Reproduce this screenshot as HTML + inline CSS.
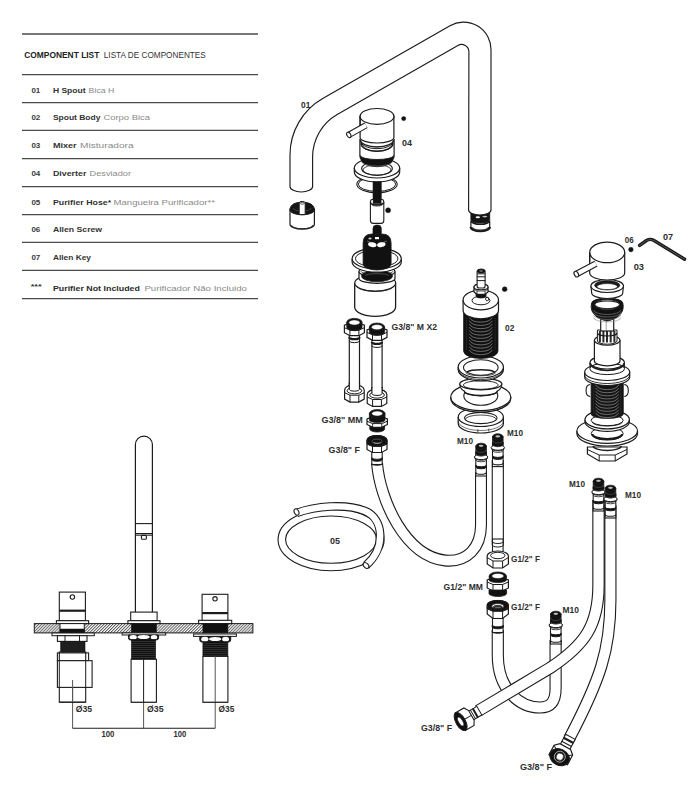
<!DOCTYPE html>
<html><head><meta charset="utf-8"><style>
html,body{margin:0;padding:0;background:#fff;}
svg{display:block;font-family:"Liberation Sans",sans-serif;}
</style></head><body>
<svg width="700" height="800" viewBox="0 0 700 800">
<line x1="22" y1="34" x2="258" y2="34" stroke="#4a4a4a" stroke-width="1.3" />
<line x1="22" y1="74.7" x2="258" y2="74.7" stroke="#4a4a4a" stroke-width="1.3" />
<line x1="22" y1="102.6" x2="258" y2="102.6" stroke="#4a4a4a" stroke-width="1.3" />
<line x1="22" y1="130.4" x2="258" y2="130.4" stroke="#4a4a4a" stroke-width="1.3" />
<line x1="22" y1="158.6" x2="258" y2="158.6" stroke="#4a4a4a" stroke-width="1.3" />
<line x1="22" y1="186.7" x2="258" y2="186.7" stroke="#4a4a4a" stroke-width="1.3" />
<line x1="22" y1="214.6" x2="258" y2="214.6" stroke="#4a4a4a" stroke-width="1.3" />
<line x1="22" y1="242.4" x2="258" y2="242.4" stroke="#4a4a4a" stroke-width="1.3" />
<line x1="22" y1="270.4" x2="258" y2="270.4" stroke="#4a4a4a" stroke-width="1.3" />
<line x1="22" y1="298.6" x2="258" y2="298.6" stroke="#4a4a4a" stroke-width="1.3" />
<text x="24.3" y="58.2" font-size="8.2" font-weight="bold" fill="#222" text-anchor="start" textLength="75" lengthAdjust="spacingAndGlyphs">COMPONENT LIST</text>
<text x="103.8" y="58.2" font-size="8.2" font-weight="normal" fill="#333" text-anchor="start" textLength="102" lengthAdjust="spacingAndGlyphs">LISTA DE COMPONENTES</text>
<text x="31.4" y="92.50000000000001" font-size="8" font-weight="bold" fill="#3a3a3a" text-anchor="start" textLength="8.9" lengthAdjust="spacingAndGlyphs">01</text>
<text x="52.9" y="92.50000000000001" font-size="8" font-weight="bold" fill="#333" text-anchor="start" textLength="32.7" lengthAdjust="spacingAndGlyphs">H Spout</text>
<text x="88.6" y="92.50000000000001" font-size="8" font-weight="normal" fill="#8a8a8a" text-anchor="start" textLength="25.8" lengthAdjust="spacingAndGlyphs">Bica H</text>
<text x="31.4" y="120.4" font-size="8" font-weight="bold" fill="#3a3a3a" text-anchor="start" textLength="8.9" lengthAdjust="spacingAndGlyphs">02</text>
<text x="52.9" y="120.4" font-size="8" font-weight="bold" fill="#333" text-anchor="start" textLength="47.5" lengthAdjust="spacingAndGlyphs">Spout Body</text>
<text x="103.4" y="120.4" font-size="8" font-weight="normal" fill="#8a8a8a" text-anchor="start" textLength="46.6" lengthAdjust="spacingAndGlyphs">Corpo Bica</text>
<text x="31.4" y="148.20000000000002" font-size="8" font-weight="bold" fill="#3a3a3a" text-anchor="start" textLength="8.9" lengthAdjust="spacingAndGlyphs">03</text>
<text x="52.9" y="148.20000000000002" font-size="8" font-weight="bold" fill="#333" text-anchor="start" textLength="23.7" lengthAdjust="spacingAndGlyphs">Mixer</text>
<text x="80" y="148.20000000000002" font-size="8" font-weight="normal" fill="#8a8a8a" text-anchor="start" textLength="53.6" lengthAdjust="spacingAndGlyphs">Misturadora</text>
<text x="31.4" y="176.4" font-size="8" font-weight="bold" fill="#3a3a3a" text-anchor="start" textLength="8.9" lengthAdjust="spacingAndGlyphs">04</text>
<text x="52.9" y="176.4" font-size="8" font-weight="bold" fill="#333" text-anchor="start" textLength="33.5" lengthAdjust="spacingAndGlyphs">Diverter</text>
<text x="89.6" y="176.4" font-size="8" font-weight="normal" fill="#8a8a8a" text-anchor="start" textLength="41.4" lengthAdjust="spacingAndGlyphs">Desviador</text>
<text x="31.4" y="204.5" font-size="8" font-weight="bold" fill="#3a3a3a" text-anchor="start" textLength="8.9" lengthAdjust="spacingAndGlyphs">05</text>
<text x="52.9" y="204.5" font-size="8" font-weight="bold" fill="#333" text-anchor="start" textLength="58.2" lengthAdjust="spacingAndGlyphs">Purifier Hose*</text>
<text x="113.5" y="204.5" font-size="8" font-weight="normal" fill="#8a8a8a" text-anchor="start" textLength="101.4" lengthAdjust="spacingAndGlyphs">Mangueira Purificador**</text>
<text x="31.4" y="232.4" font-size="8" font-weight="bold" fill="#3a3a3a" text-anchor="start" textLength="8.9" lengthAdjust="spacingAndGlyphs">06</text>
<text x="52.9" y="232.4" font-size="8" font-weight="bold" fill="#333" text-anchor="start" textLength="49.2" lengthAdjust="spacingAndGlyphs">Allen Screw</text>
<text x="31.4" y="260.2" font-size="8" font-weight="bold" fill="#3a3a3a" text-anchor="start" textLength="8.9" lengthAdjust="spacingAndGlyphs">07</text>
<text x="52.9" y="260.2" font-size="8" font-weight="bold" fill="#333" text-anchor="start" textLength="38.1" lengthAdjust="spacingAndGlyphs">Allen Key</text>
<text x="30.7" y="289.29999999999995" font-size="8" font-weight="bold" fill="#333" text-anchor="start" textLength="11" lengthAdjust="spacingAndGlyphs">***</text>
<text x="52.9" y="290.49999999999994" font-size="8" font-weight="bold" fill="#2a2a2a" text-anchor="start" textLength="87" lengthAdjust="spacingAndGlyphs">Purifier Not Included</text>
<text x="144.4" y="290.49999999999994" font-size="8" font-weight="normal" fill="#8a8a8a" text-anchor="start" textLength="102.6" lengthAdjust="spacingAndGlyphs">Purificador Não Incluido</text>
<path d="M470.90000000000003,222 L470.90000000000003,227 A9.4,4 0 0 0 489.7,227 L489.7,222 Z" fill="white" stroke="#1c1c1c" stroke-width="1.2" />
<path d="M470.90000000000003,227 A9.4,4 0 0 0 489.7,227" fill="none" stroke="#1c1c1c" stroke-width="2.6" />
<path d="M472.8,227.5 A7.5,2.5 0 0 0 487.8,227.5" fill="none" stroke="#444" stroke-width="0.8" />
<path d="M470.90000000000003,213 L470.90000000000003,219.5 A9.4,3.6 0 0 0 489.7,219.5 L489.7,213 Z" fill="#151515" stroke="#1c1c1c" stroke-width="0.9" />
<ellipse cx="477.8" cy="217.3" rx="2.2" ry="1.0" fill="white" stroke="#1c1c1c" stroke-width="0" />
<ellipse cx="484.8" cy="216.6" rx="2.5" ry="0.8" fill="#bbb" stroke="#1c1c1c" stroke-width="0" />
<path d="M470.90000000000003,220.5 A9.4,3.8 0 0 0 489.7,220.5" fill="none" stroke="#1c1c1c" stroke-width="1.6" />
<path d="M290,186.4 L290,155 A65,65 0 0 1 322.7,98.6 L450,25.7 A27.4,27.4 0 0 1 491,49.5 L491,210 A11.2,5 0 0 1 468.6,210 L468.9,51.8 A7.4,7.4 0 0 0 457.9,45.4 L337.2,114.5 A49,49 0 0 0 312.6,157 L312.6,186.4 A11.3,5.6 0 0 1 290,186.4 Z" fill="white" stroke="#1c1c1c" stroke-width="1.15" />
<path d="M290.0,209 L290.0,224.2 A12.2,5 0 0 0 314.4,224.2 L314.4,209 Z" fill="white" stroke="#1c1c1c" stroke-width="1.2" />
<path d="M291.7,225.2 A10.5,3.5 0 0 0 312.7,225.2" fill="none" stroke="#1c1c1c" stroke-width="0.9" />
<path d="M290.0,210 C290.0,204 296.2,202.3 302.2,202.3 C308.2,202.3 314.4,204 314.4,210 A12.2,4.8 0 0 1 290.0,210 Z" fill="#151515" stroke="#1c1c1c" stroke-width="1.0" />
<path d="M293.2,208 A9,3 0 0 0 311.2,208" fill="none" stroke="#666" stroke-width="0.5" />
<path d="M299.2,203 L299.2,214.6 L305.2,214.6 L305.2,203 A3,1.6 0 0 0 299.2,203 Z" fill="white" stroke="#1c1c1c" stroke-width="1.0" />
<ellipse cx="302.2" cy="203.3" rx="2.0" ry="0.9" fill="none" stroke="#1c1c1c" stroke-width="0.7" />
<ellipse cx="377" cy="184.2" rx="20.2" ry="8.5" fill="none" stroke="#1c1c1c" stroke-width="1.1" />
<ellipse cx="377" cy="184.2" rx="18.7" ry="7.2" fill="none" stroke="#1c1c1c" stroke-width="1.0" />
<rect x="373.1" y="176" width="8.0" height="28" fill="#111" stroke="#1c1c1c" stroke-width="0.5" />
<path d="M354.3,168 L354.3,172 A22.7,10 0 0 0 399.7,172 L399.7,168" fill="white" stroke="#1c1c1c" stroke-width="1.2" />
<ellipse cx="377" cy="168" rx="22.7" ry="10" fill="white" stroke="#1c1c1c" stroke-width="1.2" />
<ellipse cx="377" cy="168.5" rx="15.3" ry="6.8" fill="white" stroke="#1c1c1c" stroke-width="1.2" />
<ellipse cx="377" cy="170" rx="14" ry="5.2" fill="none" stroke="#1c1c1c" stroke-width="0.8" />
<path d="M359.9,139 L359.9,156 A17.1,8 0 0 0 394.1,156 L394.1,139" fill="white" stroke="#1c1c1c" stroke-width="1.2" />
<path d="M360.4,155.5 A16.6,4.0 0 0 0 393.6,155.5 L392.8,159.5 A15.8,7.2 0 0 1 361.2,159.5 Z" fill="#111" stroke="#1c1c1c" stroke-width="0.9" />
<path d="M361,161 A16,5 0 0 0 393,161" fill="none" stroke="#777" stroke-width="0.5" />
<path d="M360.5,140 A16.5,7 0 0 0 393.5,140" fill="none" stroke="#1c1c1c" stroke-width="1.3" />
<path d="M360.5,141 A16.5,7.7 0 0 0 393.5,141" fill="none" stroke="#1c1c1c" stroke-width="1.0" />
<path d="M361,143 A16,8.2 0 0 0 393,143" fill="none" stroke="#1c1c1c" stroke-width="1.4" />
<path d="M361,144.3 A16,7 0 0 0 393,144.3" fill="none" stroke="#1c1c1c" stroke-width="0.9" />
<path d="M360.1,116.4 L360.1,137.5 A16.9,5.5 0 0 0 393.9,137.5 L393.9,116.4" fill="white" stroke="#1c1c1c" stroke-width="1.2" />
<ellipse cx="377" cy="116.4" rx="16.9" ry="5.5" fill="white" stroke="#1c1c1c" stroke-width="1.2" />
<line x1="349" y1="134.8" x2="366" y2="125.3" stroke="#1c1c1c" stroke-width="6.4" stroke-linecap="butt"/>
<line x1="349" y1="134.8" x2="366" y2="125.3" stroke="white" stroke-width="4.2" stroke-linecap="butt"/>
<ellipse cx="348.8" cy="134.9" rx="1.9" ry="2.9" fill="white" stroke="#1c1c1c" stroke-width="1.1" transform="rotate(-30 348.8 134.9)"/>
<ellipse cx="377" cy="116.4" rx="16.9" ry="7.9" fill="white" stroke="#1c1c1c" stroke-width="1.2" />
<path d="M360.1,116.4 L360.1,126" fill="none" stroke="#1c1c1c" stroke-width="1.2" />
<ellipse cx="403.7" cy="118.6" rx="2.1" ry="2.1" fill="#111" stroke="#1c1c1c" stroke-width="0.5" />
<rect x="370.4" y="199.2" width="13.4" height="24.2" fill="white" stroke="#1c1c1c" stroke-width="1.1" rx="2.8"/>
<rect x="373.1" y="181.5" width="8.0" height="22" fill="#111" stroke="#1c1c1c" stroke-width="0.5" />
<path d="M370.6,202.5 A6.5,2.3 0 0 0 383.6,202.5" fill="none" stroke="#1c1c1c" stroke-width="1.7" />
<path d="M371.5,204.3 A5.5,1.8 0 0 0 382.5,204.3" fill="none" stroke="#1c1c1c" stroke-width="0.8" />
<ellipse cx="388.1" cy="210.3" rx="2.5" ry="2.5" fill="#111" stroke="#1c1c1c" stroke-width="0.5" />
<rect x="372.9" y="225" width="8.5" height="12" fill="#111" stroke="#1c1c1c" stroke-width="0.5" rx="3.5"/>
<path d="M354.7,283 L354.7,307 A20.45,9.3 0 0 0 395.6,307 L395.6,283" fill="white" stroke="#1c1c1c" stroke-width="1.3" />
<ellipse cx="375.2" cy="283" rx="20.45" ry="8.2" fill="white" stroke="#1c1c1c" stroke-width="1.2" />
<path d="M357,286.5 A18.5,6 0 0 0 393.5,286.5" fill="none" stroke="#1c1c1c" stroke-width="0.9" />
<path d="M359,271.5 L359,278.5 A18,4.8 0 0 0 395,278.5 L395,271.5" fill="white" stroke="#1c1c1c" stroke-width="1.2" />
<ellipse cx="377" cy="271.5" rx="18" ry="5.5" fill="white" stroke="#1c1c1c" stroke-width="1.2" />
<ellipse cx="377" cy="276" rx="15.5" ry="5.8" fill="#111" stroke="#1c1c1c" stroke-width="0.8" />
<path d="M361,271.3 A16,3.5 0 0 0 393,271.3" fill="none" stroke="#1c1c1c" stroke-width="0.9" />
<path d="M365,276 A12,2.5 0 0 1 389,276" fill="none" stroke="#666" stroke-width="0.6" />
<path d="M352.09999999999997,259 L352.09999999999997,262 A24.6,10.2 0 0 0 401.3,262 L401.3,259" fill="white" stroke="#1c1c1c" stroke-width="1.2" />
<ellipse cx="376.7" cy="258.6" rx="24.6" ry="10.5" fill="white" stroke="#1c1c1c" stroke-width="1.2" />
<ellipse cx="376.7" cy="258.6" rx="21.2" ry="8.4" fill="none" stroke="#1c1c1c" stroke-width="1.0" />
<path d="M363.1,264 L363.1,243 Q363.1,234 372,234 L382,234 Q391.1,234 391.1,243 L391.1,264 A14,6 0 0 1 363.1,264 Z" fill="#111" stroke="#1c1c1c" stroke-width="0.8" />
<ellipse cx="372.3" cy="244.6" rx="4.3" ry="2.4" fill="white" stroke="#1c1c1c" stroke-width="0" transform="rotate(12 372.3 244.6)"/>
<ellipse cx="381.3" cy="244.6" rx="4.3" ry="2.4" fill="white" stroke="#1c1c1c" stroke-width="0" transform="rotate(-12 381.3 244.6)"/>
<rect x="375" y="237" width="4" height="2.2" fill="white" stroke="#1c1c1c" stroke-width="0" />
<ellipse cx="370" cy="238.5" rx="1.6" ry="1.0" fill="#ccc" stroke="#1c1c1c" stroke-width="0" />
<path d="M367,241 L372,243 M387,241 L382,243" fill="none" stroke="#999" stroke-width="0.6" />
<path d="M458.2,417 L458.2,423.5 A22.6,9.5 0 0 0 503.40000000000003,423.5 L503.40000000000003,417" fill="white" stroke="#1c1c1c" stroke-width="1.2" />
<path d="M458.2,421 A22.6,9.5 0 0 0 503.40000000000003,421" fill="none" stroke="#1c1c1c" stroke-width="0.6" />
<line x1="477.8" y1="432.14" x2="477.8" y2="429.14" stroke="#1c1c1c" stroke-width="0.7" />
<line x1="488.8" y1="431.54" x2="488.8" y2="428.54" stroke="#1c1c1c" stroke-width="0.7" />
<ellipse cx="480.8" cy="417" rx="22.6" ry="9.5" fill="white" stroke="#1c1c1c" stroke-width="1.2" />
<ellipse cx="480.8" cy="418" rx="16.2" ry="5.6" fill="white" stroke="#1c1c1c" stroke-width="1.1" />
<path d="M465.3,419.5 A15.5,4.5 0 0 1 496.3,419.5" fill="none" stroke="#1c1c1c" stroke-width="0.8" />
<path d="M450.8,397 L450.8,398.5 A30,13.6 0 0 0 510.8,398.5 L510.8,397" fill="white" stroke="#1c1c1c" stroke-width="1.2" />
<ellipse cx="480.8" cy="397" rx="30" ry="13.6" fill="white" stroke="#1c1c1c" stroke-width="1.2" />
<ellipse cx="480.8" cy="395.7" rx="17" ry="9.6" fill="white" stroke="#1c1c1c" stroke-width="1.1" />
<path d="M459.8,384 C459.8,389 463.8,391 464.3,391 A16.5,5 0 0 0 497.3,391 C497.8,391 501.8,389 501.8,384 Z" fill="white" stroke="#1c1c1c" stroke-width="1.2" />
<ellipse cx="480.8" cy="384" rx="21" ry="5.8" fill="white" stroke="#1c1c1c" stroke-width="1.2" />
<ellipse cx="480.8" cy="385" rx="17.5" ry="4.3" fill="none" stroke="#1c1c1c" stroke-width="0.9" />
<path d="M464.3,391 A16.5,4.5 0 0 0 497.3,391" fill="none" stroke="#1c1c1c" stroke-width="1.3" />
<path d="M458.2,367 L458.2,369.5 A22.6,11.3 0 0 0 503.40000000000003,369.5 L503.40000000000003,367" fill="white" stroke="#1c1c1c" stroke-width="1.2" />
<path d="M458.2,368.5 A22.6,11.1 0 0 0 503.40000000000003,368.5" fill="none" stroke="#1c1c1c" stroke-width="0.8" />
<ellipse cx="480.8" cy="367" rx="22.6" ry="11" fill="white" stroke="#1c1c1c" stroke-width="1.2" />
<ellipse cx="480.8" cy="367.5" rx="17.3" ry="7.8" fill="white" stroke="#1c1c1c" stroke-width="1.1" />
<path d="M466.8,372 A15,3.5 0 0 1 494.8,372" fill="none" stroke="#1c1c1c" stroke-width="1.4" />
<path d="M465.8,372.5 A15,3.3 0 0 0 495.8,372.5" fill="none" stroke="#1c1c1c" stroke-width="0.8" />
<path d="M463.6,308 L463.6,351 A17.2,7.5 0 0 0 498.0,351 L498.0,308 Z" fill="#111" stroke="#1c1c1c" stroke-width="0.8" />
<path d="M469.3,317.5 A12,6.5 0 0 0 492.3,317.5" fill="none" stroke="#8a8a8a" stroke-width="0.75" />
<path d="M469.3,320.75 A12,6.5 0 0 0 492.3,320.75" fill="none" stroke="#8a8a8a" stroke-width="0.75" />
<path d="M469.3,324.0 A12,6.5 0 0 0 492.3,324.0" fill="none" stroke="#8a8a8a" stroke-width="0.75" />
<path d="M469.3,327.25 A12,6.5 0 0 0 492.3,327.25" fill="none" stroke="#8a8a8a" stroke-width="0.75" />
<path d="M469.3,330.5 A12,6.5 0 0 0 492.3,330.5" fill="none" stroke="#8a8a8a" stroke-width="0.75" />
<path d="M469.3,333.75 A12,6.5 0 0 0 492.3,333.75" fill="none" stroke="#8a8a8a" stroke-width="0.75" />
<path d="M469.3,337.0 A12,6.5 0 0 0 492.3,337.0" fill="none" stroke="#8a8a8a" stroke-width="0.75" />
<path d="M469.3,340.25 A12,6.5 0 0 0 492.3,340.25" fill="none" stroke="#8a8a8a" stroke-width="0.75" />
<path d="M469.3,343.5 A12,6.5 0 0 0 492.3,343.5" fill="none" stroke="#8a8a8a" stroke-width="0.75" />
<path d="M469.3,346.75 A12,6.5 0 0 0 492.3,346.75" fill="none" stroke="#8a8a8a" stroke-width="0.75" />
<path d="M469.3,350.0 A12,6.5 0 0 0 492.3,350.0" fill="none" stroke="#8a8a8a" stroke-width="0.75" />
<line x1="466.5" y1="318" x2="466.5" y2="350" stroke="#555" stroke-width="0.6" stroke-dasharray="1 1.2"/>
<line x1="495.1" y1="318" x2="495.1" y2="350" stroke="#555" stroke-width="0.6" stroke-dasharray="1 1.2"/>
<path d="M463.1,300 L463.1,310.5 A17.7,8.3 0 0 0 498.5,310.5 L498.5,300" fill="white" stroke="#1c1c1c" stroke-width="1.2" />
<ellipse cx="480.8" cy="300" rx="17.7" ry="9.8" fill="white" stroke="#1c1c1c" stroke-width="1.2" />
<ellipse cx="481.0" cy="300.5" rx="9" ry="4.3" fill="white" stroke="#1c1c1c" stroke-width="1.0" />
<ellipse cx="487.2" cy="299" rx="1.6" ry="1.8" fill="none" stroke="#1c1c1c" stroke-width="0.9" />
<path d="M476,292 L476,296 A5,2 0 0 0 486,296 L486,292 Z" fill="#111" stroke="#1c1c1c" stroke-width="0.8" />
<path d="M474,287 L474,292 L477,294.3 L485,294.3 L488,292 L488,287 A7,2.8 0 0 0 474,287 Z" fill="white" stroke="#1c1c1c" stroke-width="1.2" />
<ellipse cx="481" cy="287" rx="7" ry="2.8" fill="white" stroke="#1c1c1c" stroke-width="1.1" />
<path d="M474,289.3 L477,291 L485,291 L488,289.3" fill="none" stroke="#1c1c1c" stroke-width="0.8" />
<line x1="477" y1="291" x2="477" y2="294.3" stroke="#1c1c1c" stroke-width="0.8" />
<line x1="485" y1="291" x2="485" y2="294.3" stroke="#1c1c1c" stroke-width="0.8" />
<rect x="477.1" y="270" width="8" height="18" fill="white" stroke="#1c1c1c" stroke-width="1.1" rx="2"/>
<ellipse cx="481.1" cy="271" rx="4" ry="2" fill="#111" stroke="#1c1c1c" stroke-width="0.9" />
<ellipse cx="481.1" cy="271" rx="1.8" ry="0.9" fill="#777" stroke="#1c1c1c" stroke-width="0.3" />
<line x1="477.1" y1="273.8" x2="485.1" y2="273.8" stroke="#1c1c1c" stroke-width="1.0" />
<line x1="476.8" y1="276.8" x2="485.4" y2="276.8" stroke="#1c1c1c" stroke-width="1.0" />
<line x1="476.8" y1="280.6" x2="485.4" y2="280.6" stroke="#1c1c1c" stroke-width="1.0" />
<ellipse cx="504.7" cy="289.2" rx="2.4" ry="2.4" fill="#111" stroke="#1c1c1c" stroke-width="0.5" />
<path d="M281.8,539.6 A49.3,27.4 0 1 0 380.4,539.6 A49.3,27.4 0 1 0 281.8,539.6 Z" fill="none" stroke="#1c1c1c" stroke-width="8.600000000000001" stroke-linecap="butt"/>
<path d="M281.8,539.6 A49.3,27.4 0 1 0 380.4,539.6 A49.3,27.4 0 1 0 281.8,539.6 Z" fill="none" stroke="white" stroke-width="6.4" stroke-linecap="butt"/>
<path d="M296.5,513 C315,506.5 345,503 365,511 C384,518.5 386,548 366,565.5" fill="none" stroke="#1c1c1c" stroke-width="8.600000000000001" stroke-linecap="butt"/>
<path d="M296.5,513 C315,506.5 345,503 365,511 C384,518.5 386,548 366,565.5" fill="none" stroke="white" stroke-width="6.4" stroke-linecap="butt"/>
<ellipse cx="296.5" cy="512" rx="2.2" ry="3.4" fill="white" stroke="#1c1c1c" stroke-width="1.1" transform="rotate(-25 296.5 512)"/>
<ellipse cx="366" cy="565.5" rx="2.2" ry="3.4" fill="white" stroke="#1c1c1c" stroke-width="1.1" transform="rotate(-45 366 565.5)"/>
<rect x="349.29999999999995" y="334.2" width="10.2" height="55.5" fill="white" stroke="#1c1c1c" stroke-width="1.2" />
<path d="M349.29999999999995,337.2 A5.1,2 0 0 0 359.5,337.2" fill="none" stroke="#1c1c1c" stroke-width="2.2" />
<path d="M349.29999999999995,340.7 A5.1,2 0 0 0 359.5,340.7" fill="none" stroke="#1c1c1c" stroke-width="1.0" />
<path d="M344.4,325.2 L344.4,332.7 L349.9,335.7 L358.9,335.7 L364.4,332.7 L364.4,325.2 L358.9,323.2 L349.9,323.2 Z" fill="white" stroke="#1c1c1c" stroke-width="1.2" />
<path d="M344.4,327.7 L349.9,330.2 L358.9,330.2 L364.4,327.7" fill="none" stroke="#1c1c1c" stroke-width="1.0" />
<line x1="349.9" y1="330.2" x2="349.9" y2="335.7" stroke="#1c1c1c" stroke-width="1.0" />
<line x1="358.9" y1="330.2" x2="358.9" y2="335.7" stroke="#1c1c1c" stroke-width="1.0" />
<path d="M346.79999999999995,322.2 L346.79999999999995,327.2 A7.6,3.5 0 0 0 362.0,327.2 L362.0,322.2 Z" fill="#111" stroke="#1c1c1c" stroke-width="0.8" />
<ellipse cx="354.4" cy="322.2" rx="7.6" ry="3.8" fill="#111" stroke="#1c1c1c" stroke-width="0.8" />
<ellipse cx="354.4" cy="322.5" rx="5.4719999999999995" ry="2.6" fill="white" stroke="#1c1c1c" stroke-width="0.5" />
<path d="M344.59999999999997,390.2 L344.59999999999997,399.09999999999997 L349.98999999999995,402.09999999999997 L358.81,402.09999999999997 L364.2,399.09999999999997 L364.2,390.2 A9.8,5.5 0 0 0 344.59999999999997,390.2 Z" fill="white" stroke="#1c1c1c" stroke-width="1.2" />
<path d="M344.59999999999997,392.7 L349.98999999999995,395.2 L358.81,395.2 L364.2,392.7" fill="none" stroke="#1c1c1c" stroke-width="1.0" />
<line x1="349.98999999999995" y1="395.2" x2="349.98999999999995" y2="402.09999999999997" stroke="#1c1c1c" stroke-width="1.0" />
<line x1="358.81" y1="395.2" x2="358.81" y2="402.09999999999997" stroke="#1c1c1c" stroke-width="1.0" />
<ellipse cx="354.4" cy="390.7" rx="7.3500000000000005" ry="3.15" fill="none" stroke="#1c1c1c" stroke-width="1.0" />
<rect x="349.29999999999995" y="383.7" width="10.2" height="6" fill="white" stroke="#1c1c1c" stroke-width="0" />
<line x1="349.29999999999995" y1="382.7" x2="349.29999999999995" y2="389.2" stroke="#1c1c1c" stroke-width="1.2" />
<line x1="359.5" y1="382.7" x2="359.5" y2="389.2" stroke="#1c1c1c" stroke-width="1.2" />
<path d="M349.29999999999995,389.2 A5.1,2 0 0 0 359.5,389.2" fill="none" stroke="#1c1c1c" stroke-width="1.0" />
<rect x="371.9" y="338.9" width="10.2" height="55.10000000000002" fill="white" stroke="#1c1c1c" stroke-width="1.2" />
<path d="M371.9,341.9 A5.1,2 0 0 0 382.1,341.9" fill="none" stroke="#1c1c1c" stroke-width="2.2" />
<path d="M371.9,345.4 A5.1,2 0 0 0 382.1,345.4" fill="none" stroke="#1c1c1c" stroke-width="1.0" />
<path d="M367.0,329.9 L367.0,337.4 L372.5,340.4 L381.5,340.4 L387.0,337.4 L387.0,329.9 L381.5,327.9 L372.5,327.9 Z" fill="white" stroke="#1c1c1c" stroke-width="1.2" />
<path d="M367.0,332.4 L372.5,334.9 L381.5,334.9 L387.0,332.4" fill="none" stroke="#1c1c1c" stroke-width="1.0" />
<line x1="372.5" y1="334.9" x2="372.5" y2="340.4" stroke="#1c1c1c" stroke-width="1.0" />
<line x1="381.5" y1="334.9" x2="381.5" y2="340.4" stroke="#1c1c1c" stroke-width="1.0" />
<path d="M369.4,326.9 L369.4,331.9 A7.6,3.5 0 0 0 384.6,331.9 L384.6,326.9 Z" fill="#111" stroke="#1c1c1c" stroke-width="0.8" />
<ellipse cx="377.0" cy="326.9" rx="7.6" ry="3.8" fill="#111" stroke="#1c1c1c" stroke-width="0.8" />
<ellipse cx="377.0" cy="327.2" rx="5.4719999999999995" ry="2.6" fill="white" stroke="#1c1c1c" stroke-width="0.5" />
<path d="M367.2,394.5 L367.2,403.4 L372.59,406.4 L381.41,406.4 L386.8,403.4 L386.8,394.5 A9.8,5.5 0 0 0 367.2,394.5 Z" fill="white" stroke="#1c1c1c" stroke-width="1.2" />
<path d="M367.2,397.0 L372.59,399.5 L381.41,399.5 L386.8,397.0" fill="none" stroke="#1c1c1c" stroke-width="1.0" />
<line x1="372.59" y1="399.5" x2="372.59" y2="406.4" stroke="#1c1c1c" stroke-width="1.0" />
<line x1="381.41" y1="399.5" x2="381.41" y2="406.4" stroke="#1c1c1c" stroke-width="1.0" />
<ellipse cx="377.0" cy="395.0" rx="7.3500000000000005" ry="3.15" fill="none" stroke="#1c1c1c" stroke-width="1.0" />
<rect x="371.9" y="388.0" width="10.2" height="6" fill="white" stroke="#1c1c1c" stroke-width="0" />
<line x1="371.9" y1="387.0" x2="371.9" y2="393.5" stroke="#1c1c1c" stroke-width="1.2" />
<line x1="382.1" y1="387.0" x2="382.1" y2="393.5" stroke="#1c1c1c" stroke-width="1.2" />
<path d="M371.9,393.5 A5.1,2 0 0 0 382.1,393.5" fill="none" stroke="#1c1c1c" stroke-width="1.0" />
<path d="M369.8,425 L369.8,429 A7.4,3 0 0 0 384.59999999999997,429 L384.59999999999997,425 Z" fill="#111" stroke="#1c1c1c" stroke-width="0.8" />
<path d="M367.0,419 L367.0,424.5 L372.59999999999997,427.3 L381.8,427.3 L387.4,424.5 L387.4,419 L381.8,416.8 L372.59999999999997,416.8 Z" fill="white" stroke="#1c1c1c" stroke-width="1.2" />
<path d="M367.0,421.2 L372.59999999999997,423.6 L381.8,423.6 L387.4,421.2" fill="none" stroke="#1c1c1c" stroke-width="1.0" />
<line x1="372.59999999999997" y1="423.6" x2="372.59999999999997" y2="427.3" stroke="#1c1c1c" stroke-width="0.9" />
<line x1="381.8" y1="423.6" x2="381.8" y2="427.3" stroke="#1c1c1c" stroke-width="0.9" />
<path d="M369.4,413.5 L369.4,420 A7.8,2.6 0 0 0 385.0,420 L385.0,413.5 Z" fill="#111" stroke="#1c1c1c" stroke-width="0.8" />
<ellipse cx="377.2" cy="413.5" rx="7.8" ry="3.9" fill="#111" stroke="#1c1c1c" stroke-width="0.8" />
<ellipse cx="377.2" cy="413.6" rx="5.4" ry="2.5" fill="white" stroke="#1c1c1c" stroke-width="0.5" />
<path d="M377,463 C380,500 405,556 445,560.5 C467,562.5 481,548 481,525 L481,472" fill="none" stroke="#1c1c1c" stroke-width="12.0" stroke-linecap="butt"/>
<path d="M377,463 C380,500 405,556 445,560.5 C467,562.5 481,548 481,525 L481,472" fill="none" stroke="white" stroke-width="9.8" stroke-linecap="butt"/>
<rect x="371.8" y="452" width="10.4" height="12.5" fill="white" stroke="#1c1c1c" stroke-width="1.1" />
<path d="M371.8,457.5 A5.2,1.8 0 0 0 382.2,457.5 L382.2,459.5 A5.2,1.8 0 0 1 371.8,459.5 Z" fill="#111" stroke="#1c1c1c" stroke-width="0.9" />
<path d="M371.8,463.5 A5.2,1.8 0 0 0 382.2,463.5" fill="none" stroke="#1c1c1c" stroke-width="1.0" />
<path d="M367,440 L367,449.5 L372.5,452.5 L381.5,452.5 L387,449.5 L387,440 A10,4.5 0 0 0 367,440 Z" fill="white" stroke="#1c1c1c" stroke-width="1.2" />
<path d="M367,441 L367,444 L372.5,446.3 L381.5,446.3 L387,444 L387,441 Z" fill="#111" stroke="#1c1c1c" stroke-width="0.8" />
<ellipse cx="377" cy="440.5" rx="10" ry="5.0" fill="#111" stroke="#1c1c1c" stroke-width="1.0" />
<ellipse cx="377" cy="441.3" rx="5.0" ry="2.2" fill="#111" stroke="#555" stroke-width="0.9" />
<path d="M373.5,442 A3.5,1.3 0 0 0 380.5,442" fill="none" stroke="#bbb" stroke-width="0.8" />
<path d="M367,444 L372.5,446.3 L381.5,446.3 L387,444" fill="none" stroke="#1c1c1c" stroke-width="1.0" />
<line x1="372.5" y1="446.3" x2="372.5" y2="452.5" stroke="#1c1c1c" stroke-width="1.0" />
<line x1="381.5" y1="446.3" x2="381.5" y2="452.5" stroke="#1c1c1c" stroke-width="1.0" />
<path d="M497.8,630 L497.8,655 C497.8,690 520,707.5 540,707.5 C552,707.5 555.6,700 555.6,688 L555.6,640" fill="none" stroke="#1c1c1c" stroke-width="12.2" stroke-linecap="butt"/>
<path d="M497.8,630 L497.8,655 C497.8,690 520,707.5 540,707.5 C552,707.5 555.6,700 555.6,688 L555.6,640" fill="none" stroke="white" stroke-width="10.0" stroke-linecap="butt"/>
<path d="M610.4,505 L610.4,600 C610.4,650 600,680 569,739" fill="none" stroke="#1c1c1c" stroke-width="12.2" stroke-linecap="butt"/>
<path d="M610.4,505 L610.4,600 C610.4,650 600,680 569,739" fill="none" stroke="white" stroke-width="10.0" stroke-linecap="butt"/>
<path d="M598.5,500 L598.5,585 C598.5,625 585,645 550,668 L478,711" fill="none" stroke="#1c1c1c" stroke-width="12.399999999999999" stroke-linecap="butt"/>
<path d="M598.5,500 L598.5,585 C598.5,625 585,645 550,668 L478,711" fill="none" stroke="white" stroke-width="10.2" stroke-linecap="butt"/>
<path d="M497.8,460 L497.8,545" fill="none" stroke="#1c1c1c" stroke-width="12.2" stroke-linecap="butt"/>
<path d="M497.8,460 L497.8,545" fill="none" stroke="white" stroke-width="10.0" stroke-linecap="butt"/>
<rect x="475.8" y="452" width="10.6" height="24" fill="white" stroke="#1c1c1c" stroke-width="1.1" />
<path d="M475.8,465 A5.3,1.8 0 0 0 486.40000000000003,465 L486.40000000000003,467 A5.3,1.8 0 0 1 475.8,467 Z" fill="#111" stroke="#1c1c1c" stroke-width="1.0" />
<path d="M475.8,472.5 A5.3,1.8 0 0 0 486.40000000000003,472.5" fill="none" stroke="#1c1c1c" stroke-width="1.1" />
<ellipse cx="481.1" cy="457" rx="6.699999999999999" ry="2.6" fill="white" stroke="#1c1c1c" stroke-width="1.0" />
<path d="M474.6,457.8 A6.5,2.4 0 0 0 487.6,457.8" fill="none" stroke="#1c1c1c" stroke-width="1.0" />
<path d="M475.8,460 A5.3,1.8 0 0 0 486.40000000000003,460" fill="none" stroke="#1c1c1c" stroke-width="0.8" />
<path d="M475.8,446 L475.8,453.5 A5.3,2.6 0 0 0 486.40000000000003,453.5 L486.40000000000003,446 Z" fill="#111" stroke="#1c1c1c" stroke-width="0.8" />
<ellipse cx="481.1" cy="446.2" rx="5.3" ry="3.0" fill="#111" stroke="#1c1c1c" stroke-width="0.8" />
<ellipse cx="481.1" cy="445.8" rx="2.385" ry="1.1" fill="#bbb" stroke="#1c1c1c" stroke-width="0" />
<path d="M476.40000000000003,450 A4.7,2.4 0 0 0 485.8,450" fill="none" stroke="#666" stroke-width="0.5" />
<rect x="492.5" y="442.6" width="10.6" height="24" fill="white" stroke="#1c1c1c" stroke-width="1.1" />
<path d="M492.5,455.6 A5.3,1.8 0 0 0 503.1,455.6 L503.1,457.6 A5.3,1.8 0 0 1 492.5,457.6 Z" fill="#111" stroke="#1c1c1c" stroke-width="1.0" />
<path d="M492.5,463.1 A5.3,1.8 0 0 0 503.1,463.1" fill="none" stroke="#1c1c1c" stroke-width="1.1" />
<ellipse cx="497.8" cy="447.6" rx="6.699999999999999" ry="2.6" fill="white" stroke="#1c1c1c" stroke-width="1.0" />
<path d="M491.3,448.40000000000003 A6.5,2.4 0 0 0 504.3,448.40000000000003" fill="none" stroke="#1c1c1c" stroke-width="1.0" />
<path d="M492.5,450.6 A5.3,1.8 0 0 0 503.1,450.6" fill="none" stroke="#1c1c1c" stroke-width="0.8" />
<path d="M492.5,436.6 L492.5,444.1 A5.3,2.6 0 0 0 503.1,444.1 L503.1,436.6 Z" fill="#111" stroke="#1c1c1c" stroke-width="0.8" />
<ellipse cx="497.8" cy="436.8" rx="5.3" ry="3.0" fill="#111" stroke="#1c1c1c" stroke-width="0.8" />
<ellipse cx="497.8" cy="436.40000000000003" rx="2.385" ry="1.1" fill="#bbb" stroke="#1c1c1c" stroke-width="0" />
<path d="M493.1,440.6 A4.7,2.4 0 0 0 502.5,440.6" fill="none" stroke="#666" stroke-width="0.5" />
<rect x="593.2" y="487" width="10.6" height="24" fill="white" stroke="#1c1c1c" stroke-width="1.1" />
<path d="M593.2,500 A5.3,1.8 0 0 0 603.8,500 L603.8,502 A5.3,1.8 0 0 1 593.2,502 Z" fill="#111" stroke="#1c1c1c" stroke-width="1.0" />
<path d="M593.2,507.5 A5.3,1.8 0 0 0 603.8,507.5" fill="none" stroke="#1c1c1c" stroke-width="1.1" />
<ellipse cx="598.5" cy="492" rx="6.699999999999999" ry="2.6" fill="white" stroke="#1c1c1c" stroke-width="1.0" />
<path d="M592.0,492.8 A6.5,2.4 0 0 0 605.0,492.8" fill="none" stroke="#1c1c1c" stroke-width="1.0" />
<path d="M593.2,495 A5.3,1.8 0 0 0 603.8,495" fill="none" stroke="#1c1c1c" stroke-width="0.8" />
<path d="M593.2,481 L593.2,488.5 A5.3,2.6 0 0 0 603.8,488.5 L603.8,481 Z" fill="#111" stroke="#1c1c1c" stroke-width="0.8" />
<ellipse cx="598.5" cy="481.2" rx="5.3" ry="3.0" fill="#111" stroke="#1c1c1c" stroke-width="0.8" />
<ellipse cx="598.5" cy="480.8" rx="2.385" ry="1.1" fill="#bbb" stroke="#1c1c1c" stroke-width="0" />
<path d="M593.8000000000001,485 A4.7,2.4 0 0 0 603.1999999999999,485" fill="none" stroke="#666" stroke-width="0.5" />
<rect x="605.2" y="494" width="10.6" height="24" fill="white" stroke="#1c1c1c" stroke-width="1.1" />
<path d="M605.2,507 A5.3,1.8 0 0 0 615.8,507 L615.8,509 A5.3,1.8 0 0 1 605.2,509 Z" fill="#111" stroke="#1c1c1c" stroke-width="1.0" />
<path d="M605.2,514.5 A5.3,1.8 0 0 0 615.8,514.5" fill="none" stroke="#1c1c1c" stroke-width="1.1" />
<ellipse cx="610.5" cy="499" rx="6.699999999999999" ry="2.6" fill="white" stroke="#1c1c1c" stroke-width="1.0" />
<path d="M604.0,499.8 A6.5,2.4 0 0 0 617.0,499.8" fill="none" stroke="#1c1c1c" stroke-width="1.0" />
<path d="M605.2,502 A5.3,1.8 0 0 0 615.8,502" fill="none" stroke="#1c1c1c" stroke-width="0.8" />
<path d="M605.2,488 L605.2,495.5 A5.3,2.6 0 0 0 615.8,495.5 L615.8,488 Z" fill="#111" stroke="#1c1c1c" stroke-width="0.8" />
<ellipse cx="610.5" cy="488.2" rx="5.3" ry="3.0" fill="#111" stroke="#1c1c1c" stroke-width="0.8" />
<ellipse cx="610.5" cy="487.8" rx="2.385" ry="1.1" fill="#bbb" stroke="#1c1c1c" stroke-width="0" />
<path d="M605.8000000000001,492 A4.7,2.4 0 0 0 615.1999999999999,492" fill="none" stroke="#666" stroke-width="0.5" />
<rect x="550.5" y="620" width="10.6" height="24" fill="white" stroke="#1c1c1c" stroke-width="1.1" />
<path d="M550.5,633 A5.3,1.8 0 0 0 561.0999999999999,633 L561.0999999999999,635 A5.3,1.8 0 0 1 550.5,635 Z" fill="#111" stroke="#1c1c1c" stroke-width="1.0" />
<path d="M550.5,640.5 A5.3,1.8 0 0 0 561.0999999999999,640.5" fill="none" stroke="#1c1c1c" stroke-width="1.1" />
<ellipse cx="555.8" cy="625" rx="6.699999999999999" ry="2.6" fill="white" stroke="#1c1c1c" stroke-width="1.0" />
<path d="M549.3,625.8 A6.5,2.4 0 0 0 562.3,625.8" fill="none" stroke="#1c1c1c" stroke-width="1.0" />
<path d="M550.5,628 A5.3,1.8 0 0 0 561.0999999999999,628" fill="none" stroke="#1c1c1c" stroke-width="0.8" />
<path d="M550.5,614 L550.5,621.5 A5.3,2.6 0 0 0 561.0999999999999,621.5 L561.0999999999999,614 Z" fill="#111" stroke="#1c1c1c" stroke-width="0.8" />
<ellipse cx="555.8" cy="614.2" rx="5.3" ry="3.0" fill="#111" stroke="#1c1c1c" stroke-width="0.8" />
<ellipse cx="555.8" cy="613.8" rx="2.385" ry="1.1" fill="#bbb" stroke="#1c1c1c" stroke-width="0" />
<path d="M551.1,618 A4.7,2.4 0 0 0 560.4999999999999,618" fill="none" stroke="#666" stroke-width="0.5" />
<path d="M587.4000000000001,447 L587.4000000000001,454 L599.2,461 L615.2,461 L627.0,454 L627.0,447 Z" fill="white" stroke="#1c1c1c" stroke-width="1.2" />
<path d="M587.4000000000001,449.5 L599.2,455 L615.2,455 L627.0,449.5" fill="none" stroke="#1c1c1c" stroke-width="1.0" />
<line x1="599.2" y1="455" x2="599.2" y2="461" stroke="#1c1c1c" stroke-width="1.0" />
<line x1="615.2" y1="455" x2="615.2" y2="461" stroke="#1c1c1c" stroke-width="1.0" />
<path d="M593.2,446 A14,4.5 0 0 0 621.2,446" fill="none" stroke="#1c1c1c" stroke-width="1.4" />
<path d="M576.9000000000001,431 L576.9000000000001,433.5 A30.3,12.5 0 0 0 637.5,433.5 L637.5,431" fill="white" stroke="#1c1c1c" stroke-width="1.2" />
<ellipse cx="607.2" cy="431" rx="30.3" ry="12.3" fill="white" stroke="#1c1c1c" stroke-width="1.2" />
<ellipse cx="607.2" cy="433.5" rx="16" ry="6.2" fill="white" stroke="#1c1c1c" stroke-width="1.0" />
<path d="M592.2,434 A15,5 0 0 0 622.2,434" fill="none" stroke="#1c1c1c" stroke-width="2.2" />
<path d="M594.2,436.5 A13,3.5 0 0 0 620.2,436.5" fill="none" stroke="#1c1c1c" stroke-width="1.0" />
<path d="M585.0,419.5 L585.0,421.5 A22.2,9.8 0 0 0 629.4000000000001,421.5 L629.4000000000001,419.5" fill="white" stroke="#1c1c1c" stroke-width="1.2" />
<ellipse cx="607.2" cy="419.5" rx="22.2" ry="9.4" fill="white" stroke="#1c1c1c" stroke-width="1.2" />
<ellipse cx="607.2" cy="420.3" rx="16" ry="5.4" fill="white" stroke="#1c1c1c" stroke-width="1.0" />
<path d="M592.2,422 A15,4 0 0 0 622.2,422" fill="none" stroke="#1c1c1c" stroke-width="0.9" />
<path d="M591.1,383 L591.1,414 A16.1,4.5 0 0 0 623.3000000000001,414 L623.3000000000001,383 Z" fill="#151515" stroke="#1c1c1c" stroke-width="0.8" />
<path d="M595.7,385.0 A12,6.5 0 0 0 618.7,385.0" fill="none" stroke="#8a8a8a" stroke-width="0.75" />
<path d="M595.7,388.1 A12,6.5 0 0 0 618.7,388.1" fill="none" stroke="#8a8a8a" stroke-width="0.75" />
<path d="M595.7,391.2 A12,6.5 0 0 0 618.7,391.2" fill="none" stroke="#8a8a8a" stroke-width="0.75" />
<path d="M595.7,394.3 A12,6.5 0 0 0 618.7,394.3" fill="none" stroke="#8a8a8a" stroke-width="0.75" />
<path d="M595.7,397.4 A12,6.5 0 0 0 618.7,397.4" fill="none" stroke="#8a8a8a" stroke-width="0.75" />
<path d="M595.7,400.5 A12,6.5 0 0 0 618.7,400.5" fill="none" stroke="#8a8a8a" stroke-width="0.75" />
<path d="M595.7,403.6 A12,6.5 0 0 0 618.7,403.6" fill="none" stroke="#8a8a8a" stroke-width="0.75" />
<path d="M595.7,406.7 A12,6.5 0 0 0 618.7,406.7" fill="none" stroke="#8a8a8a" stroke-width="0.75" />
<path d="M595.7,409.8 A12,6.5 0 0 0 618.7,409.8" fill="none" stroke="#8a8a8a" stroke-width="0.75" />
<path d="M595.7,412.9 A12,6.5 0 0 0 618.7,412.9" fill="none" stroke="#8a8a8a" stroke-width="0.75" />
<line x1="593.7" y1="386" x2="593.7" y2="414" stroke="#555" stroke-width="0.6" stroke-dasharray="1 1.2"/>
<line x1="620.7" y1="386" x2="620.7" y2="414" stroke="#555" stroke-width="0.6" stroke-dasharray="1 1.2"/>
<path d="M590.2,384.5 C584.7,385 584.7,396 590.2,396.5" fill="none" stroke="#1c1c1c" stroke-width="1.1" />
<path d="M624.2,384.5 C629.7,385 629.7,396 624.2,396.5" fill="none" stroke="#1c1c1c" stroke-width="1.1" />
<path d="M584.7,372 L584.7,377 A22.5,8.5 0 0 0 629.7,377 L629.7,372" fill="white" stroke="#1c1c1c" stroke-width="1.2" />
<path d="M584.7,375 A22.5,8.5 0 0 0 629.7,375" fill="none" stroke="#1c1c1c" stroke-width="0.9" />
<ellipse cx="607.2" cy="372" rx="22.5" ry="8.5" fill="white" stroke="#1c1c1c" stroke-width="1.2" />
<ellipse cx="607.2" cy="368.8" rx="17.4" ry="5.8" fill="white" stroke="#1c1c1c" stroke-width="1.0" />
<path d="M590.2,363 A17,7.5 0 0 0 624.2,363" fill="none" stroke="#1c1c1c" stroke-width="1.6" />
<path d="M590.0,363 L590.0,368 M624.4000000000001,363 L624.4000000000001,368" fill="none" stroke="#1c1c1c" stroke-width="1.0" />
<ellipse cx="607.2" cy="362.5" rx="17.2" ry="6.5" fill="none" stroke="#1c1c1c" stroke-width="1.2" />
<path d="M594.4000000000001,340 L594.4000000000001,361 A12.8,4.8 0 0 0 620.0,361 L620.0,340" fill="white" stroke="#1c1c1c" stroke-width="1.2" />
<ellipse cx="607.2" cy="340.3" rx="12.8" ry="5" fill="white" stroke="#1c1c1c" stroke-width="1.1" />
<path d="M597.4000000000001,330 L597.4000000000001,341 A9.8,3.2 0 0 0 617.0,341 L617.0,330 Z" fill="white" stroke="#1c1c1c" stroke-width="1.0" />
<rect x="598.9000000000001" y="331" width="2.0" height="11.5" fill="#2a2a2a" stroke="#1c1c1c" stroke-width="0" />
<rect x="602.4000000000001" y="331" width="2.0" height="11.5" fill="#2a2a2a" stroke="#1c1c1c" stroke-width="0" />
<rect x="606.0" y="331" width="2.0" height="11.5" fill="#2a2a2a" stroke="#1c1c1c" stroke-width="0" />
<rect x="609.7" y="331" width="2.0" height="11.5" fill="#2a2a2a" stroke="#1c1c1c" stroke-width="0" />
<rect x="613.4000000000001" y="331" width="2.0" height="11.5" fill="#2a2a2a" stroke="#1c1c1c" stroke-width="0" />
<path d="M597.4000000000001,333 A9.8,3 0 0 0 617.0,333" fill="none" stroke="#1c1c1c" stroke-width="1.2" />
<rect x="600.7" y="319" width="13" height="12" fill="white" stroke="#1c1c1c" stroke-width="1.2" />
<line x1="606.2" y1="321" x2="606.2" y2="330" stroke="#777" stroke-width="0.7" />
<path d="M591.5,304 C590.2,310 593.2,318 607.2,321 C621.2,318 624.2,310 622.9000000000001,304 Z" fill="#111" stroke="#1c1c1c" stroke-width="1.0" />
<ellipse cx="607.2" cy="303.5" rx="15.7" ry="5.5" fill="#111" stroke="#1c1c1c" stroke-width="1.0" />
<ellipse cx="607.2" cy="304.2" rx="12.3" ry="4.4" fill="white" stroke="#1c1c1c" stroke-width="0.8" />
<path d="M594.9000000000001,304.2 A12.3,3.2 0 0 1 619.5,304.2" fill="none" stroke="#222" stroke-width="1.2" />
<path d="M599.2,307.5 A8,2.2 0 0 0 615.2,307.5" fill="none" stroke="#444" stroke-width="0.8" />
<path d="M593.7,310.0 A13.5,4.5 0 0 0 620.7,310.0" fill="none" stroke="#888" stroke-width="0.6" />
<path d="M593.7,312.5 A13.5,4.5 0 0 0 620.7,312.5" fill="none" stroke="#888" stroke-width="0.6" />
<path d="M593.7,315.0 A13.5,4.5 0 0 0 620.7,315.0" fill="none" stroke="#888" stroke-width="0.6" />
<path d="M593.7,317.5 A13.5,4.5 0 0 0 620.7,317.5" fill="none" stroke="#888" stroke-width="0.6" />
<path d="M590.9000000000001,286 L591.7,293 A15.5,5.5 0 0 0 622.7,293 L623.5,286" fill="white" stroke="#1c1c1c" stroke-width="1.2" />
<ellipse cx="607.2" cy="286" rx="16.3" ry="6.5" fill="white" stroke="#1c1c1c" stroke-width="1.2" />
<ellipse cx="607.2" cy="285.3" rx="12.5" ry="4.6" fill="#1a1a1a" stroke="#1c1c1c" stroke-width="0.8" />
<ellipse cx="607.2" cy="286.6" rx="10.2" ry="3.0" fill="white" stroke="#1c1c1c" stroke-width="0.6" />
<path d="M589.7,252.4 L589.7,273 A17.5,7 0 0 0 624.7,273 L624.7,252.4" fill="white" stroke="#1c1c1c" stroke-width="1.2" />
<line x1="576.5" y1="274" x2="596" y2="263.6" stroke="#1c1c1c" stroke-width="6.6" />
<line x1="576.5" y1="274" x2="596" y2="263.6" stroke="white" stroke-width="4.4" />
<ellipse cx="576.3" cy="274.1" rx="2.0" ry="3.0" fill="white" stroke="#1c1c1c" stroke-width="1.1" transform="rotate(-30 576.3 274.1)"/>
<ellipse cx="607.2" cy="252.4" rx="17.5" ry="10.3" fill="white" stroke="#1c1c1c" stroke-width="1.2" />
<path d="M589.7,252.4 L589.7,262" fill="none" stroke="#1c1c1c" stroke-width="1.2" />
<ellipse cx="630.9" cy="249.6" rx="2.3" ry="2.3" fill="#111" stroke="#1c1c1c" stroke-width="0.5" />
<path d="M639.6,245.4 L646.5,240.5 Q650.3,238.3 654,240.5 L684.6,259.2" fill="none" stroke="#1a1a1a" stroke-width="3.4" stroke-linecap="round" stroke-linejoin="round"/>
<path d="M639.6,245.4 L646.5,240.5 Q650.3,238.3 654,240.5 L684.6,259.2" fill="none" stroke="#555" stroke-width="1.0" stroke-linecap="round" stroke-linejoin="round"/>
<rect x="492.5" y="539" width="10.6" height="12.5" fill="white" stroke="#1c1c1c" stroke-width="1.1" />
<path d="M492.2,541.5 A5.6,2 0 0 0 503.40000000000003,541.5" fill="none" stroke="#1c1c1c" stroke-width="1.0" />
<path d="M492.2,545 A5.6,2 0 0 0 503.40000000000003,545" fill="none" stroke="#1c1c1c" stroke-width="1.0" />
<path d="M487.2,556 L487.2,564 L493.0,568 L502.6,568 L508.40000000000003,564 L508.40000000000003,556 A10.6,5 0 0 0 487.2,556 Z" fill="white" stroke="#1c1c1c" stroke-width="1.2" />
<ellipse cx="497.8" cy="555.5" rx="7.2" ry="3.2" fill="white" stroke="#1c1c1c" stroke-width="1.0" />
<path d="M487.2,557.5 L493.0,561 L502.6,561 L508.40000000000003,557.5" fill="none" stroke="#1c1c1c" stroke-width="1.0" />
<line x1="493.0" y1="561" x2="493.0" y2="568" stroke="#1c1c1c" stroke-width="1.0" />
<line x1="502.6" y1="561" x2="502.6" y2="568" stroke="#1c1c1c" stroke-width="1.0" />
<path d="M487.2,580 L487.2,588 L493.0,591 L502.6,591 L508.40000000000003,588 L508.40000000000003,580 L502.6,578 L493.0,578 Z" fill="white" stroke="#1c1c1c" stroke-width="1.2" />
<path d="M487.2,582 L493.0,584.5 L502.6,584.5 L508.40000000000003,582" fill="none" stroke="#1c1c1c" stroke-width="1.0" />
<line x1="493.0" y1="584.5" x2="493.0" y2="591" stroke="#1c1c1c" stroke-width="1.0" />
<line x1="502.6" y1="584.5" x2="502.6" y2="591" stroke="#1c1c1c" stroke-width="1.0" />
<path d="M489.0,590 L489.0,593.5 A8.8,3 0 0 0 506.6,593.5 L506.6,590 Z" fill="#111" stroke="#1c1c1c" stroke-width="0.8" />
<path d="M489.2,576 L489.2,580 A8.6,2.6 0 0 0 506.40000000000003,580 L506.40000000000003,576 Z" fill="#111" stroke="#1c1c1c" stroke-width="0.8" />
<ellipse cx="497.8" cy="576" rx="8.6" ry="4.0" fill="#111" stroke="#1c1c1c" stroke-width="0.8" />
<ellipse cx="497.8" cy="576.0" rx="6.0" ry="2.6" fill="white" stroke="#1c1c1c" stroke-width="0.5" />
<path d="M487.2,605 L487.2,614 L493.0,618.5 L502.6,618.5 L508.40000000000003,614 L508.40000000000003,605 A10.6,4.5 0 0 0 487.2,605 Z" fill="white" stroke="#1c1c1c" stroke-width="1.2" />
<path d="M487.2,606 L487.2,609 L493.0,611.3 L502.6,611.3 L508.40000000000003,609 L508.40000000000003,606 Z" fill="#111" stroke="#1c1c1c" stroke-width="0.8" />
<ellipse cx="497.8" cy="605.3" rx="10.6" ry="4.9" fill="#111" stroke="#1c1c1c" stroke-width="1.0" />
<ellipse cx="497.8" cy="606.2" rx="6.0" ry="2.6" fill="white" stroke="#1c1c1c" stroke-width="0.7" />
<ellipse cx="497.8" cy="607.0" rx="4.6" ry="1.7" fill="#222" stroke="#1c1c1c" stroke-width="0.6" />
<path d="M494.3,606.5 A3.5,1.0 0 0 0 501.3,606.5" fill="none" stroke="#aaa" stroke-width="0.6" />
<path d="M487.2,608 L493.0,611 L502.6,611 L508.40000000000003,608" fill="none" stroke="#1c1c1c" stroke-width="1.0" />
<line x1="493.0" y1="611" x2="493.0" y2="618.5" stroke="#1c1c1c" stroke-width="1.0" />
<line x1="502.6" y1="611" x2="502.6" y2="618.5" stroke="#1c1c1c" stroke-width="1.0" />
<rect x="492.5" y="618.5" width="10.6" height="14" fill="white" stroke="#1c1c1c" stroke-width="1.1" />
<path d="M492.2,625 A5.6,1.8 0 0 0 503.40000000000003,625 L503.40000000000003,627 A5.6,1.8 0 0 1 492.2,627 Z" fill="#111" stroke="#1c1c1c" stroke-width="0.9" />
<path d="M492.2,631.5 A5.6,1.8 0 0 0 503.40000000000003,631.5" fill="none" stroke="#1c1c1c" stroke-width="1.0" />
<g transform="translate(465,719) rotate(-30) scale(0.92)">
<rect x="6" y="-5.4" width="12" height="10.8" fill="white" stroke="#1c1c1c" stroke-width="1.1" />
<line x1="10" y1="-5.6" x2="10" y2="5.6" stroke="#1c1c1c" stroke-width="1.0" />
<line x1="13" y1="-5.6" x2="13" y2="5.6" stroke="#1c1c1c" stroke-width="2.2" />
<path d="M-6,-11 L5,-11 L8,-6 L8,6 L5,11 L-6,11 Z" fill="white" stroke="#1c1c1c" stroke-width="1.2" />
<line x1="-6" y1="0" x2="8" y2="0" stroke="#1c1c1c" stroke-width="1.0" />
<ellipse cx="-5.5" cy="0" rx="5.2" ry="11" fill="#111" stroke="#1c1c1c" stroke-width="1.0" />
<ellipse cx="-5.5" cy="0" rx="2.2" ry="5.5" fill="white" stroke="#1c1c1c" stroke-width="0.6" />
</g>
<g transform="translate(561,754.5) rotate(-62)">
<rect x="8" y="-5.4" width="12" height="10.8" fill="white" stroke="#1c1c1c" stroke-width="1.1" />
<line x1="12" y1="-5.6" x2="12" y2="5.6" stroke="#1c1c1c" stroke-width="1.0" />
<line x1="16" y1="-5.6" x2="16" y2="5.6" stroke="#1c1c1c" stroke-width="2.2" />
<path d="M-6,-10.5 L5,-10.5 L9,-6 L9,6 L5,10.5 L-6,10.5 Z" fill="white" stroke="#1c1c1c" stroke-width="1.2" />
<path d="M5,-10.5 L1,-5 L1,5 L5,10.5" fill="none" stroke="#1c1c1c" stroke-width="1.0" />
<ellipse cx="-3" cy="0" rx="8.0" ry="10.3" fill="#111" stroke="#1c1c1c" stroke-width="1.0" />
<ellipse cx="-2.5" cy="0" rx="5.5" ry="5.5" fill="none" stroke="#bbb" stroke-width="0.8" />
<ellipse cx="-2.5" cy="0" rx="3.6" ry="3.6" fill="white" stroke="#1c1c1c" stroke-width="0.6" />
</g>
<defs><pattern id="hatch" patternUnits="userSpaceOnUse" width="2.1" height="2.1" patternTransform="rotate(45)"><rect width="2.1" height="2.1" fill="white"/><line x1="0.5" y1="0" x2="0.5" y2="2.1" stroke="#444" stroke-width="0.85"/></pattern></defs>
<rect x="34.3" y="623.6" width="218.6" height="9.3" fill="url(#hatch)" stroke="#1c1c1c" stroke-width="1.0" />
<line x1="72.6" y1="680" x2="72.6" y2="728.3" stroke="#555" stroke-width="1.0" />
<line x1="143.6" y1="660" x2="143.6" y2="728.3" stroke="#555" stroke-width="1.0" />
<line x1="215.2" y1="656" x2="215.2" y2="728.3" stroke="#555" stroke-width="1.0" />
<line x1="72.6" y1="728.3" x2="215.2" y2="728.3" stroke="#1c1c1c" stroke-width="1.1" />
<line x1="59.3" y1="702.2" x2="85.7" y2="702.2" stroke="#1c1c1c" stroke-width="1.1" />
<line x1="131.1" y1="702.2" x2="156.4" y2="702.2" stroke="#1c1c1c" stroke-width="1.1" />
<line x1="202.9" y1="702.2" x2="227.9" y2="702.2" stroke="#1c1c1c" stroke-width="1.1" />
<rect x="59.3" y="592.1" width="26.1" height="28.6" fill="white" stroke="#1c1c1c" stroke-width="1.1" />
<line x1="59.3" y1="610.7" x2="85.4" y2="610.7" stroke="#1c1c1c" stroke-width="2.2" />
<ellipse cx="72.4" cy="597" rx="2.2" ry="2.2" fill="white" stroke="#1c1c1c" stroke-width="1.1" />
<rect x="56.4" y="620.7" width="32.2" height="2.9" fill="white" stroke="#1c1c1c" stroke-width="1.1" />
<rect x="60" y="623.6" width="24.3" height="9.3" fill="white" stroke="#1c1c1c" stroke-width="1.0" />
<rect x="60" y="629" width="24.3" height="4" fill="#111" stroke="#1c1c1c" stroke-width="0.5" />
<rect x="52" y="633" width="42.3" height="2.7" fill="white" stroke="#1c1c1c" stroke-width="1.0" />
<rect x="57.4" y="635.7" width="29.6" height="5.7" fill="white" stroke="#1c1c1c" stroke-width="1.1" />
<line x1="65" y1="635.7" x2="65" y2="641.4" stroke="#1c1c1c" stroke-width="1.0" />
<line x1="79.5" y1="635.7" x2="79.5" y2="641.4" stroke="#1c1c1c" stroke-width="1.0" />
<rect x="60.7" y="641.4" width="24.3" height="10.6" fill="#111" stroke="#1c1c1c" stroke-width="0.6" />
<line x1="61.3" y1="643.0" x2="84.4" y2="643.0" stroke="#666" stroke-width="0.35" />
<line x1="61.3" y1="645.0" x2="84.4" y2="645.0" stroke="#666" stroke-width="0.35" />
<line x1="61.3" y1="647.0" x2="84.4" y2="647.0" stroke="#666" stroke-width="0.35" />
<line x1="61.3" y1="649.0" x2="84.4" y2="649.0" stroke="#666" stroke-width="0.35" />
<line x1="61.3" y1="651.0" x2="84.4" y2="651.0" stroke="#666" stroke-width="0.35" />
<rect x="57.4" y="652.9" width="31.2" height="7.8" fill="white" stroke="#1c1c1c" stroke-width="1.1" />
<rect x="59.3" y="652" width="26.4" height="50.2" fill="none" stroke="#1c1c1c" stroke-width="1.1" />
<rect x="57.4" y="660.7" width="34.7" height="26.7" fill="white" stroke="#1c1c1c" stroke-width="1.1" />
<line x1="59.3" y1="660.7" x2="59.3" y2="687.4" stroke="#1c1c1c" stroke-width="1.0" />
<line x1="85.7" y1="660.7" x2="85.7" y2="687.4" stroke="#1c1c1c" stroke-width="1.0" />
<line x1="72.6" y1="680" x2="72.6" y2="702" stroke="#555" stroke-width="1.0" />
<path d="M135.4,612.1 L135.4,444.6 A8.5,8.5 0 0 1 152.4,444.6 L152.4,612.1" fill="white" stroke="#1c1c1c" stroke-width="1.2" />
<line x1="135.4" y1="523.6" x2="152.6" y2="523.6" stroke="#1c1c1c" stroke-width="1.1" />
<line x1="135.4" y1="533.6" x2="152.4" y2="533.6" stroke="#1c1c1c" stroke-width="1.2" />
<line x1="135.4" y1="535.2" x2="152.4" y2="535.2" stroke="#1c1c1c" stroke-width="1.0" />
<rect x="141.4" y="535.4" width="5" height="3.8" fill="white" stroke="#1c1c1c" stroke-width="1.1" rx="1"/>
<rect x="130.7" y="612.1" width="26.4" height="8.6" fill="white" stroke="#1c1c1c" stroke-width="1.1" />
<rect x="127.9" y="620.7" width="32.1" height="2.9" fill="white" stroke="#1c1c1c" stroke-width="1.1" />
<rect x="131.4" y="623.6" width="25" height="9.3" fill="#111" stroke="#1c1c1c" stroke-width="0.6" />
<rect x="122.1" y="632.9" width="43.6" height="2.1" fill="white" stroke="#1c1c1c" stroke-width="1.0" />
<path d="M128.5,635 L158.6,635 L158.6,638 Q158.6,640 156,640 L130.5,640 Q128.5,640 128.5,638 Z" fill="#1a1a1a" stroke="#1c1c1c" stroke-width="1.0" />
<ellipse cx="133.2" cy="637.2" rx="3.6" ry="2.2" fill="white" stroke="#1c1c1c" stroke-width="0" />
<ellipse cx="143.6" cy="637.0" rx="6.2" ry="2.0" fill="white" stroke="#1c1c1c" stroke-width="0" />
<ellipse cx="154.0" cy="637.2" rx="3.2" ry="2.2" fill="white" stroke="#1c1c1c" stroke-width="0" />
<rect x="131.4" y="639.5" width="24.3" height="19.8" fill="#111" stroke="#1c1c1c" stroke-width="0.6" />
<line x1="132" y1="641.5" x2="155.5" y2="641.5" stroke="#666" stroke-width="0.35" />
<line x1="132" y1="643.5" x2="155.5" y2="643.5" stroke="#666" stroke-width="0.35" />
<line x1="132" y1="645.5" x2="155.5" y2="645.5" stroke="#666" stroke-width="0.35" />
<line x1="132" y1="647.5" x2="155.5" y2="647.5" stroke="#666" stroke-width="0.35" />
<line x1="132" y1="649.5" x2="155.5" y2="649.5" stroke="#666" stroke-width="0.35" />
<line x1="132" y1="651.5" x2="155.5" y2="651.5" stroke="#666" stroke-width="0.35" />
<line x1="132" y1="653.5" x2="155.5" y2="653.5" stroke="#666" stroke-width="0.35" />
<line x1="132" y1="655.5" x2="155.5" y2="655.5" stroke="#666" stroke-width="0.35" />
<line x1="132" y1="657.5" x2="155.5" y2="657.5" stroke="#666" stroke-width="0.35" />
<rect x="131.1" y="659.3" width="25.3" height="42.9" fill="white" stroke="#1c1c1c" stroke-width="1.1" />
<line x1="143.6" y1="659.3" x2="143.6" y2="702" stroke="#1c1c1c" stroke-width="1.0" />
<rect x="202.1" y="594.3" width="25.8" height="26.4" fill="white" stroke="#1c1c1c" stroke-width="1.1" />
<line x1="202.1" y1="613.1" x2="227.9" y2="613.1" stroke="#1c1c1c" stroke-width="2.2" />
<ellipse cx="215" cy="598.8" rx="2.2" ry="2.2" fill="white" stroke="#1c1c1c" stroke-width="1.1" />
<rect x="198.6" y="620.3" width="33.1" height="3.3" fill="white" stroke="#1c1c1c" stroke-width="1.1" />
<rect x="202.9" y="623.6" width="25" height="9.3" fill="#111" stroke="#1c1c1c" stroke-width="0.6" />
<rect x="193.6" y="634" width="42.8" height="2.4" fill="white" stroke="#1c1c1c" stroke-width="1.0" />
<path d="M199.8,636.4 L230.7,636.4 L230.7,640 Q230.7,642.1 228,642.1 L202,642.1 Q199.8,642.1 199.8,640 Z" fill="#1a1a1a" stroke="#1c1c1c" stroke-width="1.0" />
<ellipse cx="204.8" cy="639.2" rx="3.6" ry="2.4" fill="white" stroke="#1c1c1c" stroke-width="0" />
<ellipse cx="215.2" cy="639.0" rx="6.2" ry="2.0" fill="white" stroke="#1c1c1c" stroke-width="0" />
<ellipse cx="225.6" cy="639.2" rx="3.4" ry="2.4" fill="white" stroke="#1c1c1c" stroke-width="0" />
<rect x="202.9" y="641.8" width="25" height="14.6" fill="#111" stroke="#1c1c1c" stroke-width="0.6" />
<line x1="203.5" y1="643.5" x2="227.3" y2="643.5" stroke="#666" stroke-width="0.35" />
<line x1="203.5" y1="645.5" x2="227.3" y2="645.5" stroke="#666" stroke-width="0.35" />
<line x1="203.5" y1="647.5" x2="227.3" y2="647.5" stroke="#666" stroke-width="0.35" />
<line x1="203.5" y1="649.5" x2="227.3" y2="649.5" stroke="#666" stroke-width="0.35" />
<line x1="203.5" y1="651.5" x2="227.3" y2="651.5" stroke="#666" stroke-width="0.35" />
<line x1="203.5" y1="653.5" x2="227.3" y2="653.5" stroke="#666" stroke-width="0.35" />
<line x1="203.5" y1="655.5" x2="227.3" y2="655.5" stroke="#666" stroke-width="0.35" />
<rect x="202.9" y="656.4" width="25" height="45.8" fill="white" stroke="#1c1c1c" stroke-width="1.1" />
<line x1="215.2" y1="656.4" x2="215.2" y2="702" stroke="#555" stroke-width="1.0" />
<text x="301" y="108.1" font-size="8.8" font-weight="bold" fill="#2e2e2e" text-anchor="start" textLength="9.3" lengthAdjust="spacingAndGlyphs">01</text>
<text x="402" y="145.6" font-size="8.8" font-weight="bold" fill="#2e2e2e" text-anchor="start" textLength="10" lengthAdjust="spacingAndGlyphs">04</text>
<text x="505" y="331.0" font-size="8.8" font-weight="bold" fill="#2e2e2e" text-anchor="start" textLength="9.3" lengthAdjust="spacingAndGlyphs">02</text>
<text x="330" y="544.1" font-size="8.8" font-weight="bold" fill="#2e2e2e" text-anchor="start" textLength="10" lengthAdjust="spacingAndGlyphs">05</text>
<text x="624.8" y="242.7" font-size="8.8" font-weight="bold" fill="#2e2e2e" text-anchor="start" textLength="8.9" lengthAdjust="spacingAndGlyphs">06</text>
<text x="633.7" y="270.1" font-size="8.8" font-weight="bold" fill="#2e2e2e" text-anchor="start" textLength="10.3" lengthAdjust="spacingAndGlyphs">03</text>
<text x="662.9" y="240.4" font-size="8.8" font-weight="bold" fill="#2e2e2e" text-anchor="start" textLength="10.1" lengthAdjust="spacingAndGlyphs">07</text>
<text x="391.5" y="329.8" font-size="8.8" font-weight="bold" fill="#2e2e2e" text-anchor="start" textLength="45.5" lengthAdjust="spacingAndGlyphs">G3/8" M X2</text>
<text x="321.4" y="423.1" font-size="8.8" font-weight="bold" fill="#2e2e2e" text-anchor="start" textLength="41.5" lengthAdjust="spacingAndGlyphs">G3/8" MM</text>
<text x="328.6" y="453.4" font-size="8.8" font-weight="bold" fill="#2e2e2e" text-anchor="start" textLength="31.4" lengthAdjust="spacingAndGlyphs">G3/8" F</text>
<text x="457" y="443.8" font-size="8.8" font-weight="bold" fill="#2e2e2e" text-anchor="start" textLength="16" lengthAdjust="spacingAndGlyphs">M10</text>
<text x="507" y="436.1" font-size="8.8" font-weight="bold" fill="#2e2e2e" text-anchor="start" textLength="16" lengthAdjust="spacingAndGlyphs">M10</text>
<text x="511" y="562.1" font-size="8.8" font-weight="bold" fill="#2e2e2e" text-anchor="start" textLength="29" lengthAdjust="spacingAndGlyphs">G1/2" F</text>
<text x="443.6" y="590.1" font-size="8.8" font-weight="bold" fill="#2e2e2e" text-anchor="start" textLength="39.4" lengthAdjust="spacingAndGlyphs">G1/2" MM</text>
<text x="511" y="609.5" font-size="8.8" font-weight="bold" fill="#2e2e2e" text-anchor="start" textLength="29" lengthAdjust="spacingAndGlyphs">G1/2" F</text>
<text x="562.6" y="612.7" font-size="8.8" font-weight="bold" fill="#2e2e2e" text-anchor="start" textLength="16.4" lengthAdjust="spacingAndGlyphs">M10</text>
<text x="421" y="731.1" font-size="8.8" font-weight="bold" fill="#2e2e2e" text-anchor="start" textLength="31" lengthAdjust="spacingAndGlyphs">G3/8" F</text>
<text x="520" y="770.1" font-size="8.8" font-weight="bold" fill="#2e2e2e" text-anchor="start" textLength="32" lengthAdjust="spacingAndGlyphs">G3/8" F</text>
<text x="569" y="487.1" font-size="8.8" font-weight="bold" fill="#2e2e2e" text-anchor="start" textLength="16" lengthAdjust="spacingAndGlyphs">M10</text>
<text x="625" y="497.5" font-size="8.8" font-weight="bold" fill="#2e2e2e" text-anchor="start" textLength="16" lengthAdjust="spacingAndGlyphs">M10</text>
<text x="75.7" y="712.0" font-size="8.8" font-weight="bold" fill="#2e2e2e" text-anchor="start" textLength="16.4" lengthAdjust="spacingAndGlyphs">Ø35</text>
<text x="147" y="712.0" font-size="8.8" font-weight="bold" fill="#2e2e2e" text-anchor="start" textLength="16.6" lengthAdjust="spacingAndGlyphs">Ø35</text>
<text x="218.6" y="712.0" font-size="8.8" font-weight="bold" fill="#2e2e2e" text-anchor="start" textLength="15.7" lengthAdjust="spacingAndGlyphs">Ø35</text>
<text x="101.4" y="736.7" font-size="8.8" font-weight="bold" fill="#2e2e2e" text-anchor="start" textLength="12.9" lengthAdjust="spacingAndGlyphs">100</text>
<text x="173.6" y="736.7" font-size="8.8" font-weight="bold" fill="#2e2e2e" text-anchor="start" textLength="12.8" lengthAdjust="spacingAndGlyphs">100</text>
</svg></body></html>
